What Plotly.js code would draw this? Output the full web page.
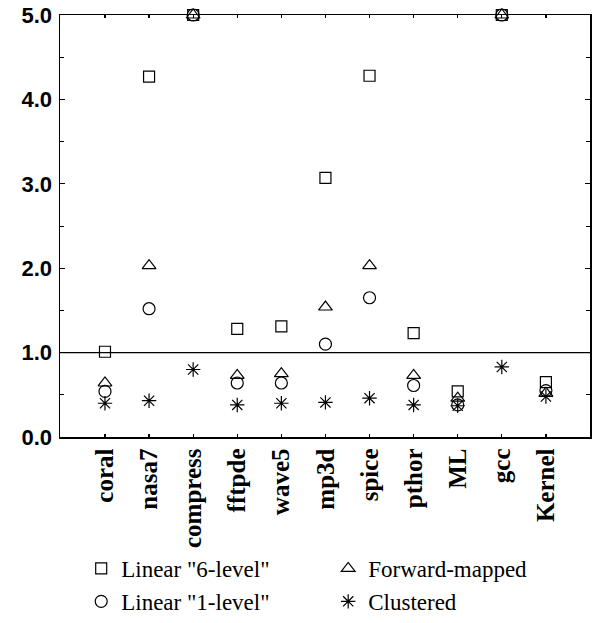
<!DOCTYPE html>
<html>
<head>
<meta charset="utf-8">
<script src="https://cdn.plot.ly/plotly-3.0.1.min.js"></script>
<style>html,body{margin:0;padding:0;background:#fff;}#chart{width:592px;height:623px;}</style>
</head>
<body>
<div id="chart"></div>
<script>
var categories = ["coral","nasa7","compress","fftpde","wave5","mp3d","spice","pthor","ML","gcc","Kernel"];
var linear6 = [1.01, 4.27, 5.0, 1.28, 1.31, 3.07, 4.28, 1.23, 0.54, 5.0, 0.65];
var forwardMapped = [0.64, 2.03, 5.0, 0.73, 0.75, 1.54, 2.03, 0.73, 0.46, 5.0, 0.52];
var linear1 = [0.54, 1.52, 5.0, 0.64, 0.64, 1.10, 1.65, 0.61, 0.38, 5.0, 0.55];
var clustered = [0.40, 0.43, 0.80, 0.38, 0.40, 0.41, 0.46, 0.38, 0.37, 0.83, 0.48];
var seriesNames = ['Linear "6-level"', 'Forward-mapped', 'Linear "1-level"', 'Clustered'];
var yTickVals = [0, 1, 2, 3, 4, 5];
var yTickText = ["0.0", "1.0", "2.0", "3.0", "4.0", "5.0"];

function mk(name, y, symbol, size) {
  return {
    type: 'scatter', mode: 'markers', name: name,
    x: categories, y: y, cliponaxis: false,
    marker: {symbol: symbol, size: size, color: '#000',
             line: {color: '#000', width: 1.2}}
  };
}
var traces = [
  mk(seriesNames[0], linear6, 'square-open', 11),
  mk(seriesNames[1], forwardMapped, 'triangle-up-open', 12),
  mk(seriesNames[2], linear1, 'circle-open', 12),
  mk(seriesNames[3], clustered, 'asterisk-open', 12)
];

var layout = {
  width: 592, height: 623,
  margin: {l: 60, r: 2, t: 15, b: 186},
  paper_bgcolor: '#fff', plot_bgcolor: '#fff',
  showlegend: true,
  legend: {
    orientation: 'h', xref: 'paper', x: 0.04, xanchor: 'left',
    yref: 'container', y: 0.122, yanchor: 'top',
    entrywidth: 202, entrywidthmode: 'pixels',
    font: {family: '"Liberation Serif", "Times New Roman", serif', size: 23, color: '#000'},
    bgcolor: 'rgba(0,0,0,0)', borderwidth: 0, traceorder: 'normal'
  },
  xaxis: {
    type: 'category', range: [-1.02, 11.0], automargin: false,
    showline: true, linecolor: '#000', linewidth: 1.5, mirror: 'ticks',
    ticks: 'inside', ticklen: 3, tickwidth: 1.2, tickcolor: '#000',
    tickangle: -90, showgrid: false, zeroline: false,
    tickfont: {family: '"Liberation Serif", "Times New Roman", serif', size: 25, color: '#000', weight: 'bold'}
  },
  yaxis: {
    range: [0, 5], tickmode: 'array', tickvals: yTickVals, ticktext: yTickText,
    automargin: false,
    showline: true, linecolor: '#000', linewidth: 1.5, mirror: 'ticks',
    ticks: 'inside', ticklen: 5, tickwidth: 1.2, tickcolor: '#000',
    ticklabelstandoff: 2,
    minor: {dtick: 0.5, ticks: 'inside', ticklen: 4, tickwidth: 1, tickcolor: '#000', showgrid: false},
    showgrid: false, zeroline: false,
    tickfont: {family: '"Liberation Sans", Arial, sans-serif', size: 22, color: '#000', weight: 'bold'}
  },
  shapes: [{type: 'line', xref: 'paper', x0: 0, x1: 1, yref: 'y', y0: 1, y1: 1,
            line: {color: '#000', width: 1.3}, layer: 'below'}]
};
Plotly.newPlot('chart', traces, layout, {displayModeBar: false, staticPlot: true});
</script>
</body>
</html>
